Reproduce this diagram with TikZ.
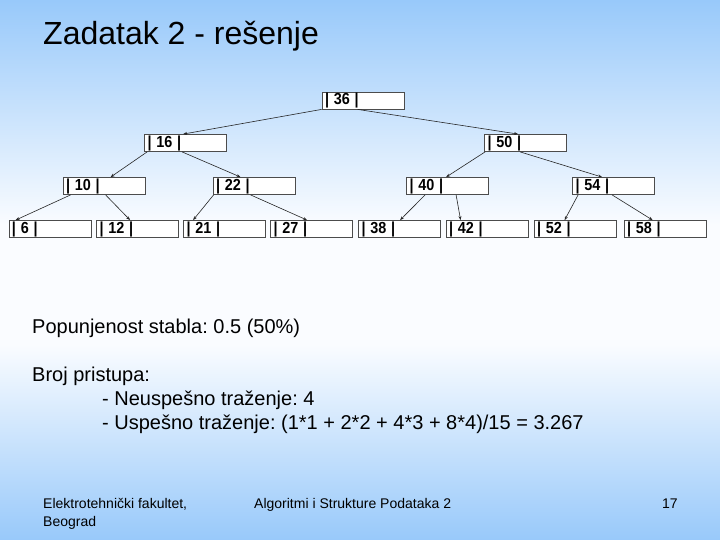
\documentclass[tikz,border=0pt]{standalone}
\usepackage{fontspec}
\usepackage{graphicx}
\setmainfont{Liberation Sans}
\frenchspacing
\usetikzlibrary{arrows.meta}
\definecolor{bgblue}{RGB}{152,201,250}
\definecolor{bgwhite}{RGB}{250,252,255}
\newcommand{\keytxt}[1]{\scalebox{0.9}[1]{#1}}
\begin{document}
\begin{tikzpicture}[x=1pt,y=-1pt,
  keybox/.style={draw=black!70, line width=0.8pt, fill=white, minimum height=17pt,
    text width=76pt, inner xsep=3pt, inner ysep=0pt, align=left,
    font=\fontsize{16}{16}\selectfont\bfseries},
  arr/.style={draw=black!85, line width=0.6pt, -{Stealth[length=4pt,width=3pt]}},
  bodytxt/.style={anchor=base west, inner sep=0pt, font=\fontsize{20}{24}\selectfont},
  foottxt/.style={anchor=base west, inner sep=0pt, font=\fontsize{14}{17}\selectfont}]
\useasboundingbox (0,0) rectangle (720,540);
\shade[top color=bgblue, bottom color=bgwhite] (0,0) rectangle (720,225);
\fill[bgwhite] (0,224.5) rectangle (720,345.5);
\shade[top color=bgwhite, bottom color=bgblue] (0,345) rectangle (720,540);

\node[anchor=base west, inner sep=0pt, font=\fontsize{32}{36}\selectfont] (title) at (43,45) {Zadatak 2 - rešenje};

% tree
\node[keybox] (n36) at (363,100.5) {\keytxt{| 36 |}};
\node[keybox] (n16) at (185.5,143) {\keytxt{| 16 |}};
\node[keybox] (n50) at (525.5,143) {\keytxt{| 50 |}};
\node[keybox] (n10) at (104,186) {\keytxt{| 10 |}};
\node[keybox] (n22) at (254,186) {\keytxt{| 22 |}};
\node[keybox] (n40) at (447.5,186) {\keytxt{| 40 |}};
\node[keybox] (n54) at (613.5,186) {\keytxt{| 54 |}};
\node[keybox] (n6)  at (50,229) {\keytxt{| 6 |}};
\node[keybox] (n12) at (137.5,229) {\keytxt{| 12 |}};
\node[keybox] (n21) at (224.5,229) {\keytxt{| 21 |}};
\node[keybox] (n27) at (311.5,229) {\keytxt{| 27 |}};
\node[keybox] (n38) at (399.5,229) {\keytxt{| 38 |}};
\node[keybox] (n42) at (487,229) {\keytxt{| 42 |}};
\node[keybox] (n52) at (575,229) {\keytxt{| 52 |}};
\node[keybox] (n58) at (665,229) {\keytxt{| 58 |}};

\draw[arr] ([xshift=0pt]n36.south west) -- ([xshift=39pt]n16.north west);
\draw[arr] ([xshift=36pt]n36.south west) -- ([xshift=34pt]n50.north west);
\draw[arr] ([xshift=3pt]n16.south west) -- ([xshift=48pt]n10.north west);
\draw[arr] ([xshift=38pt]n16.south west) -- ([xshift=28pt]n22.north west);
\draw[arr] ([xshift=1pt]n50.south west) -- ([xshift=40pt]n40.north west);
\draw[arr] ([xshift=36pt]n50.south west) -- ([xshift=30pt]n54.north west);
\draw[arr] ([xshift=8pt]n10.south west) -- ([xshift=7pt]n6.north west);
\draw[arr] ([xshift=43pt]n10.south west) -- ([xshift=34pt]n12.north west);
\draw[arr] ([xshift=1pt]n22.south west) -- ([xshift=10pt]n21.north west);
\draw[arr] ([xshift=38pt]n22.south west) -- ([xshift=37pt]n27.north west);
\draw[arr] ([xshift=19pt]n40.south west) -- ([xshift=42pt]n38.north west);
\draw[arr] ([xshift=50pt]n40.south west) -- ([xshift=15pt]n42.north west);
\draw[arr] ([xshift=6pt]n54.south west) -- ([xshift=31pt]n52.north west);
\draw[arr] ([xshift=40pt]n54.south west) -- ([xshift=29pt]n58.north west);

% body text
\node[bodytxt] (pop) at (32,333) {Popunjenost stabla: 0.5 (50\%)};
\node[bodytxt] (broj) at (32,381) {Broj pristupa:};
\node[bodytxt] (neus) at (102,405) {- Neuspešno traženje: 4};
\node[bodytxt] (usp) at (102,429) {- Uspešno traženje: (1*1 + 2*2 + 4*3 + 8*4)/15 = 3.267};

% footer
\node[foottxt] (f1) at (43,508) {Elektrotehnički fakultet,};
\node[foottxt] (f2) at (43,526) {Beograd};
\node[foottxt] (f3) at (254,508) {Algoritmi i Strukture Podataka 2};
\node[foottxt] (f4) at (662,508) {17};
\end{tikzpicture}
\end{document}
